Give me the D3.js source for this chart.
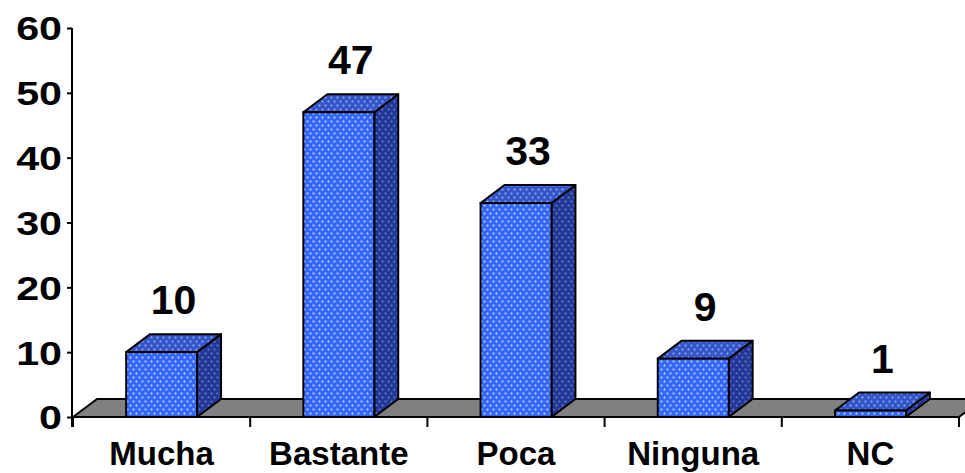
<!DOCTYPE html>
<html>
<head>
<meta charset="utf-8">
<script src="https://cdn.jsdelivr.net/npm/d3@7"></script>
<style>
  html, body { margin: 0; padding: 0; background: #fff; }
  svg { display: block; }
  text { font-family: "Liberation Sans", Arial, sans-serif; font-weight: bold; fill: #000; }
</style>
</head>
<body>
<svg id="chart" width="965" height="473"></svg>
<script>
const categories = ["Mucha", "Bastante", "Poca", "Ninguna", "NC"];
const values = [10, 47, 33, 9, 1];
const yTicks = [0, 10, 20, 30, 40, 50, 60];

const plotLeft = 73, plotRight = 959, plotBottom = 417, plotTop = 28;
const depthX = 24, depthY = 18;

const svg = d3.select("#chart");
const defs = svg.append("defs");

function dotPattern(id, bg, dot, op) {
  const p = defs.append("pattern").attr("id", id).attr("patternUnits", "userSpaceOnUse")
    .attr("width", 6).attr("height", 8);
  p.append("rect").attr("width", 6).attr("height", 8).attr("fill", bg);
  [[1.5, 1.5], [4.5, 5.5]].forEach(([cx, cy]) => {
    p.append("rect").attr("x", cx - 0.9).attr("y", cy - 0.9).attr("width", 1.8).attr("height", 1.8)
      .attr("fill", dot).attr("opacity", op);
  });
}
dotPattern("pFront", "#3366ff", "#e6eeff", 0.85);
dotPattern("pTop", "#3355cc", "#c8d4f0", 0.7);
dotPattern("pSide", "#22379a", "#8d9cc4", 0.7);

const x = d3.scaleBand().domain(categories).range([plotLeft, plotRight]).paddingInner(0.6).paddingOuter(0.3);
const y = d3.scaleLinear().domain([0, 60]).range([plotBottom, plotTop]);
const bw = x.bandwidth();

// floor
svg.append("polygon")
  .attr("points", [[plotLeft, plotBottom], [plotRight, plotBottom], [plotRight + depthX, plotBottom - depthY], [plotLeft + depthX, plotBottom - depthY]].map(p => p.join(",")).join(" "))
  .attr("fill", "#808080").attr("stroke", "#000").attr("stroke-width", 2).attr("stroke-linejoin", "round");

// bars
const data = categories.map((c, i) => ({ c, v: values[i] }));
const g = svg.append("g").selectAll("g").data(data).join("g");
g.each(function(d) {
  const el = d3.select(this);
  const x0 = x(d.c), x1 = x0 + bw, yt = y(d.v), yb = y(0);
  el.append("polygon")
    .attr("points", [[x1, yb], [x1 + depthX, yb - depthY], [x1 + depthX, yt - depthY], [x1, yt]].map(p => p.join(",")).join(" "))
    .attr("fill", "url(#pSide)").attr("stroke", "#000").attr("stroke-width", 2).attr("stroke-linejoin", "round");
  el.append("polygon")
    .attr("points", [[x0, yt], [x0 + depthX, yt - depthY], [x1 + depthX, yt - depthY], [x1, yt]].map(p => p.join(",")).join(" "))
    .attr("fill", "url(#pTop)").attr("stroke", "#000").attr("stroke-width", 2).attr("stroke-linejoin", "round");
  el.append("rect")
    .attr("x", x0).attr("y", yt).attr("width", bw).attr("height", yb - yt)
    .attr("fill", "url(#pFront)").attr("stroke", "#000").attr("stroke-width", 2);
});

// value labels
svg.append("g").selectAll("text").data(data).join("text")
  .attr("x", d => x(d.c) + bw / 2 + depthX / 2)
  .attr("y", d => y(d.v) - depthY - 20)
  .attr("text-anchor", "middle")
  .attr("font-size", 41)
  .text(d => d.v);

// y axis
const yAxis = svg.append("g").attr("transform", `translate(${plotLeft - 1},0)`)
  .call(d3.axisLeft(y).tickValues(yTicks).tickSize(5).tickPadding(3).tickSizeOuter(0));
yAxis.select(".domain").remove();
yAxis.selectAll(".tick line").attr("stroke", "#000").attr("stroke-width", 2);
yAxis.selectAll(".tick text")
  .attr("font-size", 33).attr("font-family", "Liberation Sans, Arial, sans-serif")
  .attr("font-weight", "bold").attr("fill", "#000")
  .attr("dy", "0.36em")
  .attr("transform", "scale(1.25,1)");
yAxis.append("line").attr("x1", 0).attr("x2", 0).attr("y1", plotTop).attr("y2", plotBottom + 10)
  .attr("stroke", "#000").attr("stroke-width", 2);

// x axis
const step = x.step();
const bounds = d3.range(categories.length + 1).map(i => plotLeft + i * step);
svg.append("g").selectAll("line").data(bounds).join("line")
  .attr("x1", d => d).attr("x2", d => d).attr("y1", plotBottom).attr("y2", plotBottom + 10)
  .attr("stroke", "#000").attr("stroke-width", 2);
svg.append("line").attr("x1", plotLeft).attr("x2", plotRight).attr("y1", plotBottom).attr("y2", plotBottom)
  .attr("stroke", "#000").attr("stroke-width", 2);

const xAxis = svg.append("g").attr("transform", `translate(0,${plotBottom})`)
  .call(d3.axisBottom(x).tickSize(0).tickPadding(0));
xAxis.select(".domain").remove();
xAxis.selectAll(".tick text")
  .attr("y", 48).attr("dy", 0)
  .attr("font-size", 33).attr("font-family", "Liberation Sans, Arial, sans-serif")
  .attr("font-weight", "bold").attr("fill", "#000");
</script>
</body>
</html>
